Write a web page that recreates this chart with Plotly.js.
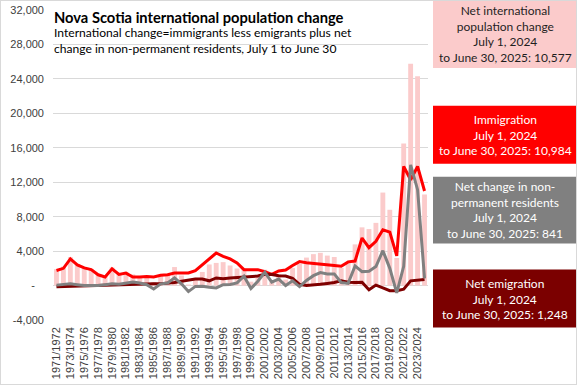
<!DOCTYPE html>
<html><head><meta charset="utf-8">
<script src="https://cdn.plot.ly/plotly-3.0.1.min.js"></script>
<style>
html,body{margin:0;padding:0;background:#fff;}
#chart{position:absolute;left:0;top:0;width:577px;height:385px;}
#frame{position:absolute;left:0;top:0;width:577px;height:385px;box-sizing:border-box;border:1px solid #d9d9d9;pointer-events:none;}
</style>
</head><body>
<div id="chart"></div><div id="frame"></div>
<script>
const years = ['1971/1972','1972/1973','1973/1974','1974/1975','1975/1976','1976/1977','1977/1978','1978/1979','1979/1980','1980/1981',
  '1981/1982','1982/1983','1983/1984','1984/1985','1985/1986','1986/1987','1987/1988','1988/1989','1989/1990','1990/1991',
  '1991/1992','1992/1993','1993/1994','1994/1995','1995/1996','1996/1997','1997/1998','1998/1999','1999/2000','2000/2001',
  '2001/2002','2002/2003','2003/2004','2004/2005','2005/2006','2006/2007','2007/2008','2008/2009','2009/2010','2010/2011',
  '2011/2012','2012/2013','2013/2014','2014/2015','2015/2016','2016/2017','2017/2018','2018/2019','2019/2020','2020/2021',
  '2021/2022','2022/2023','2023/2024','2024/2025'];
// Net international population change (bars)
const netChange = [1900,2200,3300,2500,2100,1900,1300,1100,2100,1400,
  1600,1300,1100,950,400,1200,1300,2150,1170,120,
  890,1580,2450,2630,2720,2330,1980,1980,450,1250,
  1840,430,1300,700,2030,2510,3250,3650,3800,3480,
  3320,2040,2620,4780,6760,6560,7280,10800,8800,3200,
  16490,25750,24310,10577];
// Immigration (red line)
const immigration = [1750,2000,3100,2400,2050,1850,1250,1000,1950,1300,
  1450,1000,1000,1050,1000,1200,1250,1450,1470,1470,
  1740,2430,3200,3780,3400,3090,2620,1850,1850,1850,
  1600,1300,1700,1800,2330,2780,2650,2550,2450,2380,
  2320,2240,2750,2850,5520,4400,5130,6480,6200,3450,
  13830,12280,13830,10984];
// Net change in non-permanent residents (grey line)
const nprChange = [50,150,200,100,0,0,0,100,200,150,
  250,400,300,100,-400,200,300,900,200,-700,
  -100,-80,-200,-270,100,120,310,1080,-350,500,
  1540,400,750,0,550,-120,600,1150,1500,1350,
  1350,350,250,2280,1620,1660,2200,4050,2000,-850,
  2240,14020,11130,841];
// Net emigration (dark red line)
const emigration = [-150,-120,-80,-60,-50,-40,-20,0,30,60,
  100,130,180,190,200,220,270,350,500,650,
  750,770,550,880,780,880,950,950,1050,1100,
  1300,1270,1150,1100,850,150,0,50,150,250,
  350,550,380,350,380,-500,50,-270,-600,-600,
  -420,550,650,700];

const yTickVals = [-4000,0,4000,8000,12000,16000,20000,24000,28000,32000];
const yTickText = ['-4,000','-\u00a0\u00a0\u00a0','4,000','8,000','12,000','16,000','20,000','24,000','28,000','32,000'];
const xTickVals = years.filter((y,i)=>i%2===0);

const txtFont = 'Lato,"DejaVu Sans Condensed",sans-serif';

const traces = [
  {type:'bar', x:years, y:netChange, marker:{color:'#FBCBCB'}, name:'Net international population change'},
  {type:'scatter', mode:'lines', x:years, y:immigration, line:{color:'#FF0000', width:3}, name:'Immigration'},
  {type:'scatter', mode:'lines', x:years, y:emigration, line:{color:'#7F0000', width:3}, name:'Net emigration'},
  {type:'scatter', mode:'lines', x:years, y:nprChange, line:{color:'#808080', width:3}, name:'Net change in non-permanent residents'}
];

const L=53, R=428, T=10, B=320.5;
const px = x => (x-L)/(R-L);
const py = y => (B-y)/(B-T);

const boxes = [
  {y0:0, y1:68, color:'#FBCBCB', text:'Net international<br>population change<br>July 1, 2024<br>to June 30, 2025: 10,577', fc:'#1f1f1f'},
  {y0:106, y1:164, color:'#FF0000', text:'Immigration<br>July 1, 2024<br>to June 30, 2025: 10,984', fc:'#ffffff'},
  {y0:177, y1:244, color:'#808080', text:'Net change in non-<br>permanent residents<br>July 1, 2024<br>to June 30, 2025: 841', fc:'#ffffff'},
  {y0:270, y1:328, color:'#7B0000', text:'Net emigration<br>July 1, 2024<br>to June 30, 2025: 1,248', fc:'#ffffff'}
];

const shapes = boxes.map(b=>({type:'rect', xref:'paper', yref:'paper', x0:px(433), x1:px(577), y0:py(b.y1), y1:py(b.y0), fillcolor:b.color, line:{width:0}, layer:'above'}));
const annotations = boxes.map(b=>({xref:'paper', yref:'paper', x:px(505), y:py((b.y0+b.y1)/2), xanchor:'center', yanchor:'middle', showarrow:false, align:'center', text:b.text, font:{family:txtFont, size:12, color:b.fc}}));
annotations.push({xref:'paper', yref:'paper', x:px(51.5), y:py(17.5), xanchor:'left', yanchor:'middle', showarrow:false, align:'left',
  text:'<b>Nova Scotia international population change</b>', font:{family:txtFont, size:14.7, color:'#000'}});
annotations.push({xref:'paper', yref:'paper', x:px(52), y:py(40.5), xanchor:'left', yanchor:'middle', showarrow:false, align:'left',
  text:'International change=immigrants less emigrants plus net<br>change in non-permanent residents, July 1 to June 30', font:{family:txtFont, size:12.1, color:'#000'}});

const layout = {
  width:577, height:385,
  margin:{l:L, r:577-R, t:T, b:385-B},
  paper_bgcolor:'#fff', plot_bgcolor:'#fff',
  showlegend:false,
  bargap:0.3,
  xaxis:{type:'category', tickvals:xTickVals, ticktext:xTickVals, tickangle:-90, showgrid:false, zeroline:false, showline:false, ticks:'',
    tickfont:{family:'"Liberation Sans",Arial,sans-serif', size:11, color:'#404040'}, ticklabelstandoff:4},
  yaxis:{range:[-4000,32000], tickvals:yTickVals, ticktext:yTickText, showgrid:true, gridcolor:'#d9d9d9', gridwidth:1, zeroline:false, showline:false, ticks:'',
    tickfont:{family:'"Liberation Sans",Arial,sans-serif', size:11, color:'#404040'}, ticklabelstandoff:8},
  shapes:shapes,
  annotations:annotations
};
Plotly.newPlot('chart', traces, layout, {displayModeBar:false, staticPlot:true});
</script>
</body></html>
